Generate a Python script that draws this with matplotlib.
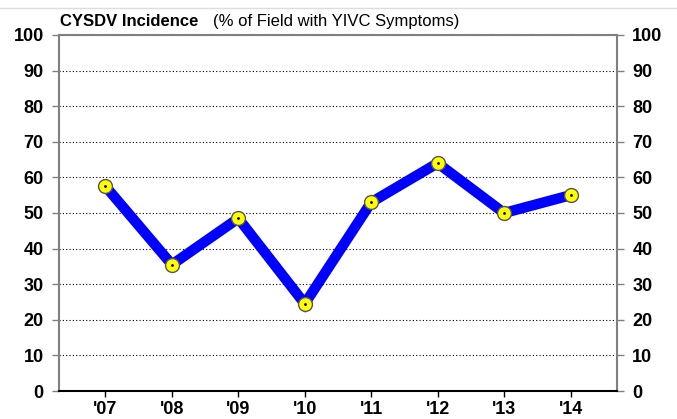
import numpy as np
import matplotlib
matplotlib.use('Agg')
from matplotlib import pyplot as plt

years = ["'07", "'08", "'09", "'10", "'11", "'12", "'13", "'14"]
incidence = [57.5, 35.5, 48.5, 24.5, 53, 64, 50, 55]
yticks = list(range(0, 101, 10))

plt.rcParams['font.family'] = ['Liberation Sans', 'DejaVu Sans']

fig = plt.figure(figsize=(6.77, 4.19), dpi=100)
ax = fig.add_axes([0.0871, 0.0668, 0.8243, 0.8497])

x = np.arange(len(years))
ax.plot(x, incidence, color='#0000ff', lw=7.5, solid_joinstyle='miter', zorder=3)
ax.plot(x, incidence, 'o', ms=10, mfc='#ffff00', mec='#555555', mew=1, zorder=4)
ax.plot(x, incidence, '.', ms=2, color='black', zorder=5)

ax.set_xlim(-0.7, len(years) - 0.3)
ax.set_ylim(0, 100)
ax.set_xticks(x)
ax.set_xticklabels(years)
ax.set_yticks(yticks)
ax.yaxis.grid(True, linestyle=(0, (1, 2)), color='black', lw=0.8)
ax.set_axisbelow(True)

ax.tick_params(axis='y', left=True, right=True, labelleft=True,
               labelright=True, direction='out', length=5, width=1,
               color='#808080', labelsize=13, pad=6)
ax.tick_params(axis='x', direction='out', length=4, width=1, color='black',
               labelsize=13, pad=3)
for t in ax.yaxis.get_major_ticks():
    t.label1.set_fontweight('bold')
    t.label2.set_fontweight('bold')
for lbl in ax.get_xticklabels():
    lbl.set_fontweight('bold')

for side in ['left', 'right', 'top']:
    ax.spines[side].set_color('#808080')
    ax.spines[side].set_linewidth(1.5)
ax.spines['bottom'].set_color('black')
ax.spines['bottom'].set_linewidth(1.5)

fig.text(0.089, 0.937, 'CYSDV Incidence', fontsize=12, fontweight='bold')
fig.text(0.315, 0.937, '(% of Field with YIVC Symptoms)', fontsize=12)

# faint frame line at the top like the source
fig.add_artist(plt.Line2D([0, 1], [0.981, 0.981], color='#dddddd', lw=1))

fig.savefig('out.png', dpi=100)
